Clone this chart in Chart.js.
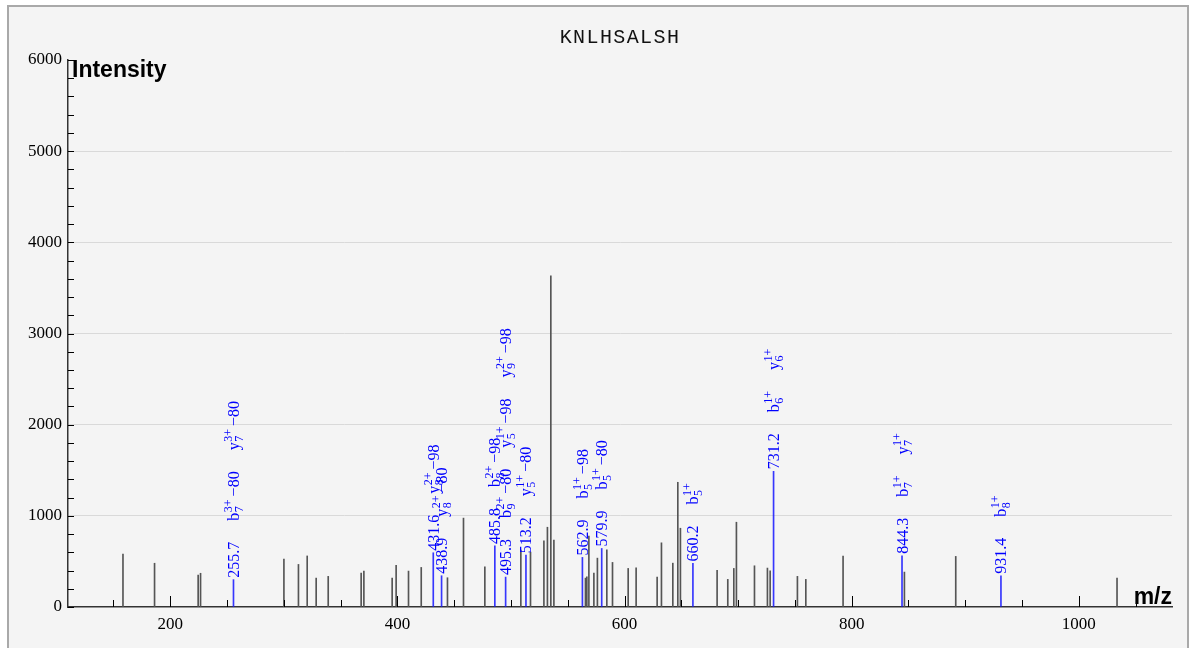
<!DOCTYPE html>
<html>
<head>
<meta charset="utf-8">
<script src="https://cdn.jsdelivr.net/npm/chart.js@4.4.1/dist/chart.umd.min.js"></script>
<style>
  html, body { margin: 0; padding: 0; background: #fff; }
  #wrap { width: 1190px; height: 648px; }
</style>
</head>
<body>
<div id="wrap"><canvas id="spectrum" width="1190" height="648"></canvas></div>
<script>
// Spectrum data
const peptide = 'KNLHSALSH';

// unmatched peaks (m/z, intensity)
const peakMz = [158.4, 186.2, 224.6, 226.7, 300.1, 312.9, 320.6, 328.5, 339.1, 368.1, 370.5,
    395.4, 398.9, 409.8, 421.0, 444.1, 458.2, 477.0, 508.7, 517.2, 529.0, 532.1, 535.1, 537.8,
    565.6, 566.8, 568.6, 573.0, 576.1, 584.4, 589.4, 603.2, 610.2, 628.7, 632.5, 642.5, 646.9,
    649.2, 681.5, 690.9, 696.2, 698.5, 714.4, 725.8, 728.2, 752.2, 759.6, 792.4, 846.4, 891.6, 1033.6];
const peakIntensity = [580, 480, 350, 370, 525, 467, 560, 317, 336, 372, 394,
    317, 456, 394, 434, 321, 975, 441, 624, 602, 725, 875, 3632, 733,
    317, 332, 777, 372, 536, 627, 489, 423, 430, 328, 704, 481, 1368,
    864, 401, 303, 423, 930, 452, 427, 397, 336, 303, 558, 383, 555, 317];

// matched (annotated) peaks
const matchedMz = [255.7, 431.6, 438.9, 485.8, 495.3, 513.2, 562.9, 579.9, 660.2, 731.2, 844.3, 931.4];
const matchedIntensity = [300, 595, 343, 670, 328, 569, 544, 642, 478, 1488, 561, 343];
// ion labels: [type, position, charge, neutral loss]
const matchedIons = [
    [['b', '7', '3+', '\u221280'], ['y', '7', '3+', '\u221280']],
    [['y', '8', '2+', '\u221298']],
    [['y', '8', '2+', '\u221280']],
    [['b', '8', '2+', '\u221298']],
    [['b', '9', '2+', '\u221280'], ['y', '5', '1+', '\u221298'], ['y', '9', '2+', '\u221298']],
    [['y', '5', '1+', '\u221280']],
    [['b', '5', '1+', '\u221298']],
    [['b', '5', '1+', '\u221280']],
    [['b', '5', '1+', '']],
    [['b', '6', '1+', ''], ['y', '6', '1+', '']],
    [['b', '7', '1+', ''], ['y', '7', '1+', '']],
    [['b', '8', '1+', '']]
];

const xTicks = [200, 400, 600, 800, 1000];
const yTicks = [0, 1000, 2000, 3000, 4000, 5000, 6000];

const SERIF = '"Liberation Serif", "DejaVu Serif", serif';
const SANS = '"Liberation Sans", Arial, sans-serif';

// frame, background, title, axis names
const decorPlugin = {
    id: 'decor',
    beforeDraw(chart) {
        const c = chart.ctx;
        c.save();
        c.fillStyle = '#fff';
        c.fillRect(0, 0, chart.width, chart.height);
        c.fillStyle = '#f4f4f4';
        c.fillRect(8, 6, 1180, 642);
        c.strokeStyle = '#a9a9a9';
        c.lineWidth = 2;
        c.strokeRect(8, 6, 1180, 645);
        c.restore();
    },
    afterDraw(chart) {
        const c = chart.ctx;
        const area = chart.chartArea;
        const xs = chart.scales.x, ys = chart.scales.y;
        c.save();
        // inward tick marks
        c.strokeStyle = '#000';
        c.lineWidth = 1;
        c.beginPath();
        for (let v = 0; v <= 6000; v += 200) {
            const py = Math.round(ys.getPixelForValue(v)) + 0.5;
            c.moveTo(area.left, py);
            c.lineTo(area.left + 6, py);
        }
        for (let v = 150; v <= 1050; v += 50) {
            const px = Math.round(xs.getPixelForValue(v)) + 0.5;
            c.moveTo(px, area.bottom);
            c.lineTo(px, area.bottom - (v % 200 === 0 ? 11 : 7));
        }
        c.stroke();

        // title
        c.fillStyle = '#111';
        c.font = '20px "Liberation Mono", "DejaVu Sans Mono", monospace';
        c.letterSpacing = '1.4px';
        c.textAlign = 'center';
        c.textBaseline = 'middle';
        c.fillText(peptide, (area.left + area.right) / 2, 38);
        c.letterSpacing = '0px';

        // axis names
        c.fillStyle = '#000';
        c.font = 'bold 23px ' + SANS;
        c.textAlign = 'left';
        c.textBaseline = 'alphabetic';
        c.fillText('Intensity', area.left + 4, 77);
        c.textAlign = 'right';
        c.fillText('m/z', area.right, 604);
        c.restore();
    }
};

// draw one rotated ion label, returns its length
function drawIon(c, ion) {
    const [type, pos, charge, loss] = ion;
    c.font = '16px ' + SERIF;
    c.fillText(type, 0, 5.5);
    let w = c.measureText(type).width + 0.5;
    c.font = '12px ' + SERIF;
    c.fillText(charge, w, -1.5);
    c.fillText(pos, w, 9.5);
    w += Math.max(c.measureText(charge).width, c.measureText(pos).width);
    if (loss) {
        w += 3;
        c.font = '16px ' + SERIF;
        c.fillText(loss, w, 5.5);
        w += c.measureText(loss).width;
    }
    return w;
}

const annotatePlugin = {
    id: 'annotate',
    afterDatasetsDraw(chart) {
        const c = chart.ctx;
        const xs = chart.scales.x, ys = chart.scales.y;
        c.save();
        c.fillStyle = '#0000ff';
        c.textAlign = 'left';
        c.textBaseline = 'alphabetic';
        matchedMz.forEach((mz, i) => {
            const px = xs.getPixelForValue(mz);
            let py = ys.getPixelForValue(matchedIntensity[i]) - 2;
            const labels = [mz.toFixed(1)].concat(matchedIons[i]);
            labels.forEach(lab => {
                c.save();
                c.translate(px, py);
                c.rotate(-Math.PI / 2);
                let w;
                if (typeof lab === 'string') {
                    c.font = '16px ' + SERIF;
                    c.fillText(lab, 0, 5.5);
                    w = c.measureText(lab).width;
                } else {
                    w = drawIon(c, lab);
                }
                c.restore();
                py -= w + 21;
            });
        });
        c.restore();
    }
};

const ctx = document.getElementById('spectrum').getContext('2d');
const chart = new Chart(ctx, {
    type: 'bar',
    data: {
        datasets: [{
            label: 'peaks',
            data: peakMz.map((m, i) => ({ x: m, y: peakIntensity[i] })),
            backgroundColor: '#555',
            barThickness: 1,
            borderWidth: 0
        }, {
            label: 'matched',
            data: matchedMz.map((m, i) => ({ x: m, y: matchedIntensity[i] })),
            backgroundColor: 'rgba(20, 20, 255, 0.85)',
            barThickness: 1,
            borderWidth: 0
        }]
    },
    options: {
        responsive: false,
        animation: false,
        devicePixelRatio: 1,
        grouped: false,
        layout: { padding: { left: 8, right: 18, top: 60, bottom: 0 } },
        plugins: { legend: { display: false }, tooltip: { enabled: false } },
        scales: {
            x: {
                type: 'linear',
                min: 110,
                max: 1082,
                offset: false,
                afterBuildTicks: axis => { axis.ticks = xTicks.map(v => ({ value: v })); },
                afterFit: axis => { axis.height = 41; },
                grid: { display: false, drawTicks: false },
                border: { display: true, color: '#333', width: 1.5 },
                ticks: {
                    color: '#000', padding: 7, maxRotation: 0,
                    font: { family: SERIF, size: 17 },
                    callback: v => String(v)
                }
            },
            y: {
                min: 0,
                max: 6000,
                afterBuildTicks: axis => { axis.ticks = yTicks.map(v => ({ value: v })); },
                afterFit: axis => { axis.width = 60; },
                grid: {
                    drawTicks: false,
                    color: c => (c.tick && (c.tick.value === 0 || c.tick.value === 6000)) ? 'rgba(0,0,0,0)' : '#d9d9d9'
                },
                border: { display: true, color: '#333', width: 1.5 },
                ticks: {
                    color: '#000', padding: 6,
                    font: { family: SERIF, size: 17 },
                    callback: v => String(v)
                }
            }
        }
    },
    plugins: [decorPlugin, annotatePlugin]
});
</script>
</body>
</html>
